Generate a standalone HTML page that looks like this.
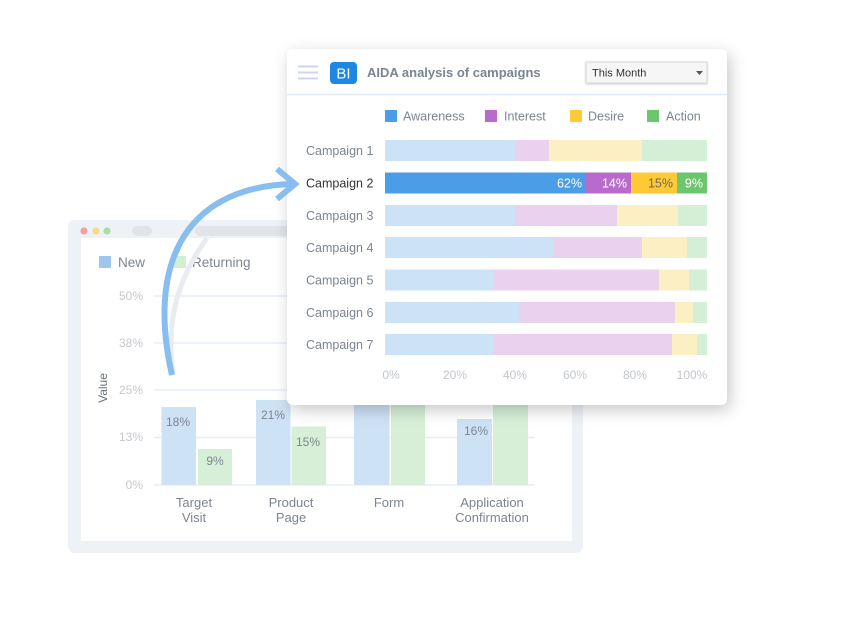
<!DOCTYPE html>
<html><head><meta charset="utf-8"><style>
html,body{margin:0;padding:0;background:#fff;}
svg{display:block;font-family:"Liberation Sans",sans-serif;}
</style></head><body>
<svg width="859" height="626" viewBox="0 0 859 626" xmlns="http://www.w3.org/2000/svg">
<defs>
<filter id="sh" x="-20%" y="-20%" width="140%" height="150%">
<feDropShadow dx="3" dy="5" stdDeviation="8" flood-color="#000" flood-opacity="0.22"/>
</filter>
<filter id="sh2" x="-10%" y="-30%" width="120%" height="160%">
<feDropShadow dx="0" dy="1" stdDeviation="1" flood-color="#000" flood-opacity="0.18"/>
</filter>
</defs>
<rect width="859" height="626" fill="#fff"/>

<!-- back window -->
<rect x="68" y="220" width="515" height="333" rx="7" fill="#eef2f6"/>
<rect x="81" y="238" width="491" height="303" fill="#fff"/>
<circle cx="84" cy="231" r="3.6" fill="#f3a0a0"/>
<circle cx="96" cy="231" r="3.6" fill="#f6d98c"/>
<circle cx="107" cy="231" r="3.6" fill="#a8dea8"/>
<rect x="132" y="226" width="20" height="10" rx="5" fill="#e1e4e9"/>
<rect x="195" y="226" width="110" height="10" rx="5" fill="#e1e4e9"/>

<!-- back legend -->
<rect x="99" y="256" width="12" height="12" fill="#9ec7f0"/>
<text x="118" y="267" font-size="13.5" fill="#7d8590">New</text>
<rect x="174" y="256" width="12" height="12" fill="#d3efd3"/>
<text x="192" y="267" font-size="13.5" fill="#7d8590">Returning</text>

<!-- back grid -->
<g stroke="#e5eef8" stroke-width="1.5">
<line x1="154" y1="296" x2="535" y2="296"/>
<line x1="154" y1="343" x2="535" y2="343"/>
<line x1="154" y1="390" x2="535" y2="390"/>
<line x1="154" y1="437.5" x2="535" y2="437.5"/>
<line x1="154" y1="485" x2="535" y2="485"/>
</g>
<g font-size="12" fill="#c4c8cd" text-anchor="end">
<text x="143" y="300">50%</text>
<text x="143" y="347">38%</text>
<text x="143" y="394">25%</text>
<text x="143" y="441">13%</text>
<text x="143" y="489">0%</text>
</g>
<text transform="translate(107,388) rotate(-90)" font-size="12" fill="#6e7580" text-anchor="middle">Value</text>

<!-- back bars -->
<g fill="#cee2f6">
<rect x="161.5" y="407" width="34.5" height="78"/>
<rect x="256" y="400" width="34.5" height="85"/>
<rect x="354" y="395" width="35.5" height="90"/>
<rect x="457" y="419" width="35" height="66"/>
</g>
<g fill="#d6efd6">
<rect x="198" y="449" width="34" height="36"/>
<rect x="291.5" y="426.5" width="34.5" height="58.5"/>
<rect x="391" y="395" width="34" height="90"/>
<rect x="493" y="395" width="35" height="90"/>
</g>
<g font-size="12" fill="#7d8590" text-anchor="middle">
<text x="178" y="426">18%</text>
<text x="215" y="465">9%</text>
<text x="273" y="419">21%</text>
<text x="308" y="446">15%</text>
<text x="476" y="435">16%</text>
</g>
<g font-size="13" fill="#7d8590" text-anchor="middle">
<text x="194" y="507">Target</text>
<text x="194" y="522">Visit</text>
<text x="291" y="507">Product</text>
<text x="291" y="522">Page</text>
<text x="389" y="507">Form</text>
<text x="492" y="507">Application</text>
<text x="492" y="522">Confirmation</text>
</g>

<!-- gray arc shadow -->
<path d="M173,372 Q162,300 207,238" fill="none" stroke="#e8ebef" stroke-width="5"/>

<!-- front card -->
<rect x="287" y="49" width="440" height="356" rx="6" fill="#fff" filter="url(#sh)"/>
<line x1="287" y1="94.5" x2="727" y2="94.5" stroke="#dce9f6" stroke-width="1.5"/>
<g stroke="#c8d8ea" stroke-width="2">
<line x1="298" y1="66.5" x2="318" y2="66.5"/>
<line x1="298" y1="72.5" x2="318" y2="72.5"/>
<line x1="298" y1="78.5" x2="318" y2="78.5"/>
</g>
<rect x="330" y="62" width="27" height="22" rx="4" fill="#1d87e4"/>
<text x="343.5" y="78.5" font-size="15" fill="#fff" text-anchor="middle">BI</text>
<text x="367" y="77" font-size="13" font-weight="bold" fill="#7b8591">AIDA analysis of campaigns</text>
<rect x="586" y="62" width="121" height="21" fill="#f6f6f6" stroke="#d8d8d8" filter="url(#sh2)"/>
<text x="592" y="76.5" font-size="11" fill="#333">This Month</text>
<polygon points="696,71 703,71 699.5,75" fill="#555"/>

<!-- legend -->
<g font-size="12.5" fill="#7b8591">
<rect x="385" y="110" width="12" height="12" fill="#4a9de6"/>
<text x="403" y="120.5">Awareness</text>
<rect x="485" y="110" width="12" height="12" fill="#b96bcb"/>
<text x="504" y="120.5">Interest</text>
<rect x="570" y="110" width="12" height="12" fill="#fdc934"/>
<text x="588" y="120.5">Desire</text>
<rect x="647" y="110" width="12" height="12" fill="#6cc66e"/>
<text x="666" y="120.5">Action</text>
</g>

<!-- campaign bars -->
<g font-size="12.5" fill="#7b8591">
<text x="306" y="155">Campaign 1</text>
<text x="306" y="187.5" fill="#333">Campaign 2</text>
<text x="306" y="220">Campaign 3</text>
<text x="306" y="252">Campaign 4</text>
<text x="306" y="284.5">Campaign 5</text>
<text x="306" y="317">Campaign 6</text>
<text x="306" y="349">Campaign 7</text>
</g>
<!-- C1 -->
<rect x="385" y="140" width="130" height="21" fill="#cce2f7"/>
<rect x="515" y="140" width="34" height="21" fill="#ead2ee"/>
<rect x="549" y="140" width="93" height="21" fill="#fdefc4"/>
<rect x="642" y="140" width="65" height="21" fill="#d5efd6"/>
<!-- C2 -->
<rect x="385" y="172.5" width="201" height="21" fill="#4a9de6"/>
<rect x="586" y="172.5" width="45" height="21" fill="#b96bcb"/>
<rect x="631" y="172.5" width="46" height="21" fill="#fdc934"/>
<rect x="677" y="172.5" width="30" height="21" fill="#6cc66e"/>
<g font-size="12.5" text-anchor="end">
<text x="582" y="187.5" fill="#fff">62%</text>
<text x="627" y="187.5" fill="#fff">14%</text>
<text x="673" y="187.5" fill="#6f6a55">15%</text>
<text x="703" y="187.5" fill="#fff">9%</text>
</g>
<!-- C3 -->
<rect x="385" y="205" width="130" height="21" fill="#cce2f7"/>
<rect x="515" y="205" width="102" height="21" fill="#ead2ee"/>
<rect x="617" y="205" width="61" height="21" fill="#fdefc4"/>
<rect x="678" y="205" width="29" height="21" fill="#d5efd6"/>
<!-- C4 -->
<rect x="385" y="237" width="168" height="21" fill="#cce2f7"/>
<rect x="553" y="237" width="89" height="21" fill="#ead2ee"/>
<rect x="642" y="237" width="45" height="21" fill="#fdefc4"/>
<rect x="687" y="237" width="20" height="21" fill="#d5efd6"/>
<!-- C5 -->
<rect x="385" y="269.5" width="108" height="21" fill="#cce2f7"/>
<rect x="493" y="269.5" width="166" height="21" fill="#ead2ee"/>
<rect x="659" y="269.5" width="30" height="21" fill="#fdefc4"/>
<rect x="689" y="269.5" width="18" height="21" fill="#d5efd6"/>
<!-- C6 -->
<rect x="385" y="302" width="134" height="21" fill="#cce2f7"/>
<rect x="519" y="302" width="156" height="21" fill="#ead2ee"/>
<rect x="675" y="302" width="18" height="21" fill="#fdefc4"/>
<rect x="693" y="302" width="14" height="21" fill="#d5efd6"/>
<!-- C7 -->
<rect x="385" y="334" width="108" height="21" fill="#cce2f7"/>
<rect x="493" y="334" width="179" height="21" fill="#ead2ee"/>
<rect x="672" y="334" width="25" height="21" fill="#fdefc4"/>
<rect x="697" y="334" width="10" height="21" fill="#d5efd6"/>

<g font-size="12" fill="#c2c6cc" text-anchor="middle">
<text x="391" y="379">0%</text>
<text x="455" y="379">20%</text>
<text x="515" y="379">40%</text>
<text x="575" y="379">60%</text>
<text x="635" y="379">80%</text>
<text x="692" y="379">100%</text>
</g>

<!-- blue arrow -->
<path d="M172,375 C148,270 180,188 291,184" fill="none" stroke="#88bdef" stroke-width="6"/>
<polyline points="277,169 295,184 277,199" fill="none" stroke="#88bdef" stroke-width="6" stroke-linejoin="miter"/>
</svg>
</body></html>
